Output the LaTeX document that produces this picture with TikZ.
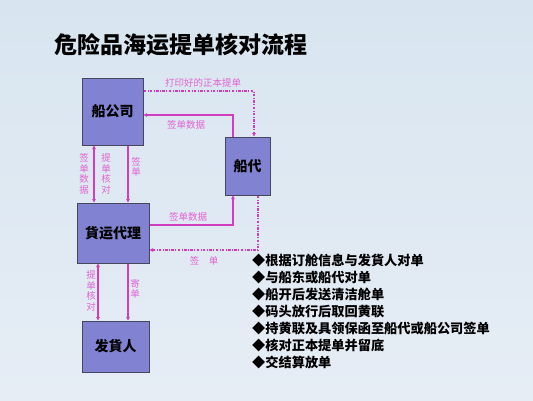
\documentclass[tikz,border=0pt]{standalone}
\usepackage{fontspec}
\setmainfont{Noto Sans CJK SC}
\usetikzlibrary{arrows.meta,calc}
\definecolor{boxfill}{RGB}{130,130,210}
\definecolor{boxline}{RGB}{70,70,95}
\definecolor{lnc}{RGB}{210,60,190}
\definecolor{lblc}{RGB}{225,100,210}
\definecolor{bgtop}{RGB}{216,229,240}
\definecolor{bgbot}{RGB}{230,237,245}
\begin{document}
\begin{tikzpicture}[x=1pt,y=-1pt,
  box/.style={draw=boxline, fill=boxfill, line width=1pt, inner sep=0pt,
    font=\bfseries\fontsize{14}{16}\selectfont},
  conn/.style={draw=lnc, line width=1.1pt},
  arr/.style={conn, -{Triangle[length=3.5pt,width=3.5pt]}},
  darr/.style={conn, {Triangle[length=3.5pt,width=3.5pt]}-{Triangle[length=3.5pt,width=3.5pt]}},
  dd/.style={dash pattern=on 2.5pt off 1.5pt on 0.8pt off 1.5pt},
  lbl/.style={text=lblc, inner sep=0pt, font=\fontsize{9.5}{10.5}\selectfont, align=center}]
\shade[top color=bgtop, bottom color=bgbot] (0,0) rectangle (533,400);
\useasboundingbox (0,0) rectangle (533,400);

\node[anchor=west, inner sep=0pt, font=\bfseries\fontsize{23}{25}\selectfont] (title) at (54,45) {危险品海运提单核对流程};

\node[box, minimum width=61pt, minimum height=67pt] (sg) at (112.5,111.5) {船公司};
\node[box, minimum width=45pt, minimum height=58pt] (sd) at (247.5,166) {船代};
\node[box, minimum width=72pt, minimum height=60pt] (hy) at (113,233) {貨运代理};
\node[box, minimum width=67pt, minimum height=51pt] (fh) at (115.5,346.5) {发貨人};

% top dash-dot: sg -> sd
\coordinate (p1) at (254,91);
\draw[arr,dd] (sg.east |- p1) -| (p1 |- sd.north);
\node[lbl] (l1) at (203,83) {打印好的正本提单};
% sd -> sg
\coordinate (p2) at (233,115);
\draw[arr] (p2 |- sd.north) |- (sg.east |- p2);
\node[lbl] (l2) at (186,125) {签单数据};
% sg <-> hy
\coordinate (p3) at (94,0);
\draw[darr] (p3 |- sg.south) -- (p3 |- hy.north);
\node[lbl] (l3) at (84,174) {签\\单\\数\\据};
\node[lbl] (l4) at (106,174) {提\\单\\核\\对};
\coordinate (p4) at (128,0);
\draw[arr] (p4 |- sg.south) -- (p4 |- hy.north);
\node[lbl] (l5) at (136,167) {签\\单};
% hy -> sd
\coordinate (p5) at (233,225);
\draw[arr] (hy.east |- p5) -| (p5 |- sd.south);
\node[lbl] (l6) at (188,217) {签单数据};
% sd -> hy dash-dot
\coordinate (p6) at (258,250);
\draw[arr,dd] (p6 |- sd.south) |- (hy.east |- p6);
\node[lbl] (l7) at (204,261) {签\quad 单};
% hy <-> fh
\coordinate (p7) at (98,0);
\draw[darr] (p7 |- fh.north) -- (p7 |- hy.south);
\node[lbl] (l8) at (91,291) {提\\单\\核\\对};
\coordinate (p8) at (128,0);
\draw[arr] (p8 |- hy.south) -- (p8 |- fh.north);
\node[lbl] (l9) at (135,289) {寄\\单};

\node[anchor=north west, inner sep=0pt, align=left,
  font=\bfseries\fontsize{13.2}{17}\selectfont] (list) at (252,254)
  {◆根据订舱信息与发貨人对单\\
   ◆与船东或船代对单\\
   ◆船开后发送清洁舱单\\
   ◆码头放行后取回黄联\\
   ◆持黄联及具领保函至船代或船公司签单\\
   ◆核对正本提单并留底\\
   ◆交结算放单};
\end{tikzpicture}
\end{document}
